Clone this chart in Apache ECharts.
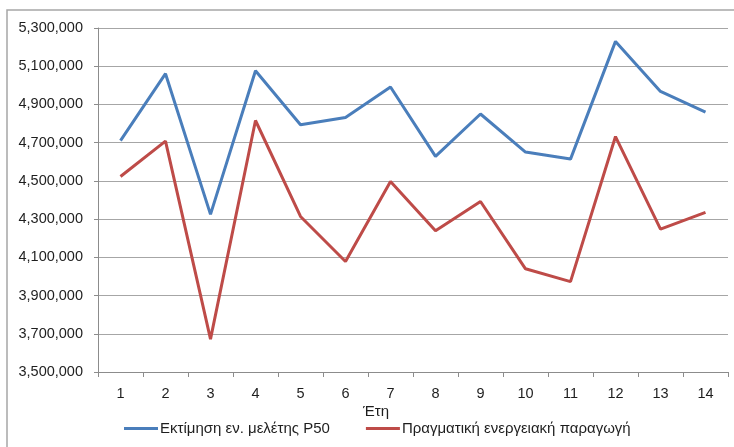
<!DOCTYPE html>
<html>
<head>
<meta charset="utf-8">
<script src="https://cdn.jsdelivr.net/npm/echarts@6/dist/echarts.min.js"></script>
<style>
  html, body { margin: 0; padding: 0; background: #fff; }
  #chart { width: 734px; height: 447px; }
</style>
</head>
<body>
<div id="chart"></div>
<script>
// Years of operation (x categories)
const years = ['1', '2', '3', '4', '5', '6', '7', '8', '9', '10', '11', '12', '13', '14'];

// Energy study estimate (P50), kWh per year
const estimateP50 = [4711000, 5061000, 4325000, 5076000, 4794000, 4832000, 4991000,
                     4628000, 4850000, 4651000, 4614000, 5230000, 4968000, 4860000];

// Actual energy production, kWh per year
const actualProduction = [4523000, 4708000, 3672000, 4816000, 4314000, 4078000, 4497000,
                          4239000, 4392000, 4040000, 3973000, 4732000, 4248000, 4335000];

const seriesNames = ['Εκτίμηση εν. μελέτης P50', 'Πραγματική ενεργειακή παραγωγή'];
const axisTitle = 'Έτη';

const font = 'Liberation Sans';
const textColor = '#1e1e1e';
const chart = echarts.init(document.getElementById('chart'), null, { renderer: 'canvas' });

chart.setOption({
  animation: false,
  backgroundColor: '#ffffff',
  textStyle: { fontFamily: font },
  graphic: [
    {
      type: 'rect',
      shape: { x: 7, y: 10, width: 800, height: 500 },
      style: { fill: 'none', stroke: '#a6a6a6', lineWidth: 1.5 },
      silent: true
    },
    {
      type: 'text',
      left: 363,
      top: 404,
      style: { text: axisTitle, font: '15px "' + font + '"', fill: textColor }
    }
  ],
  grid: { left: 98, right: 6, top: 28, bottom: 75 },
  legend: {
    left: 124,
    top: 421,
    padding: 0,
    itemWidth: 34,
    itemHeight: 3,
    itemGap: 36,
    icon: 'rect',
    textStyle: { fontSize: 15, color: textColor, padding: [0, 0, 0, -3] },
    data: seriesNames
  },
  xAxis: {
    type: 'category',
    data: years,
    boundaryGap: true,
    axisLine: { lineStyle: { color: '#8c8c8c', width: 1 } },
    axisTick: { show: true, length: 5, interval: 0, lineStyle: { color: '#8c8c8c' } },
    axisLabel: { fontSize: 14.5, color: textColor, margin: 14, interval: 0 }
  },
  yAxis: {
    type: 'value',
    min: 3500000,
    max: 5300000,
    interval: 200000,
    axisLine: { show: true, lineStyle: { color: '#8c8c8c', width: 1 } },
    axisTick: { show: true, length: 4, lineStyle: { color: '#8c8c8c' } },
    axisLabel: {
      fontSize: 14.5,
      color: textColor,
      margin: 15,
      formatter: v => v.toLocaleString('en-US')
    },
    splitLine: { lineStyle: { color: '#a6a6a6', width: 1 } }
  },
  series: [
    {
      name: seriesNames[0],
      type: 'line',
      data: estimateP50,
      symbol: 'none',
      lineStyle: { color: '#4a7ebb', width: 3 },
      itemStyle: { color: '#4a7ebb' }
    },
    {
      name: seriesNames[1],
      type: 'line',
      data: actualProduction,
      symbol: 'none',
      lineStyle: { color: '#be4b48', width: 3 },
      itemStyle: { color: '#be4b48' }
    }
  ]
});
</script>
</body>
</html>
